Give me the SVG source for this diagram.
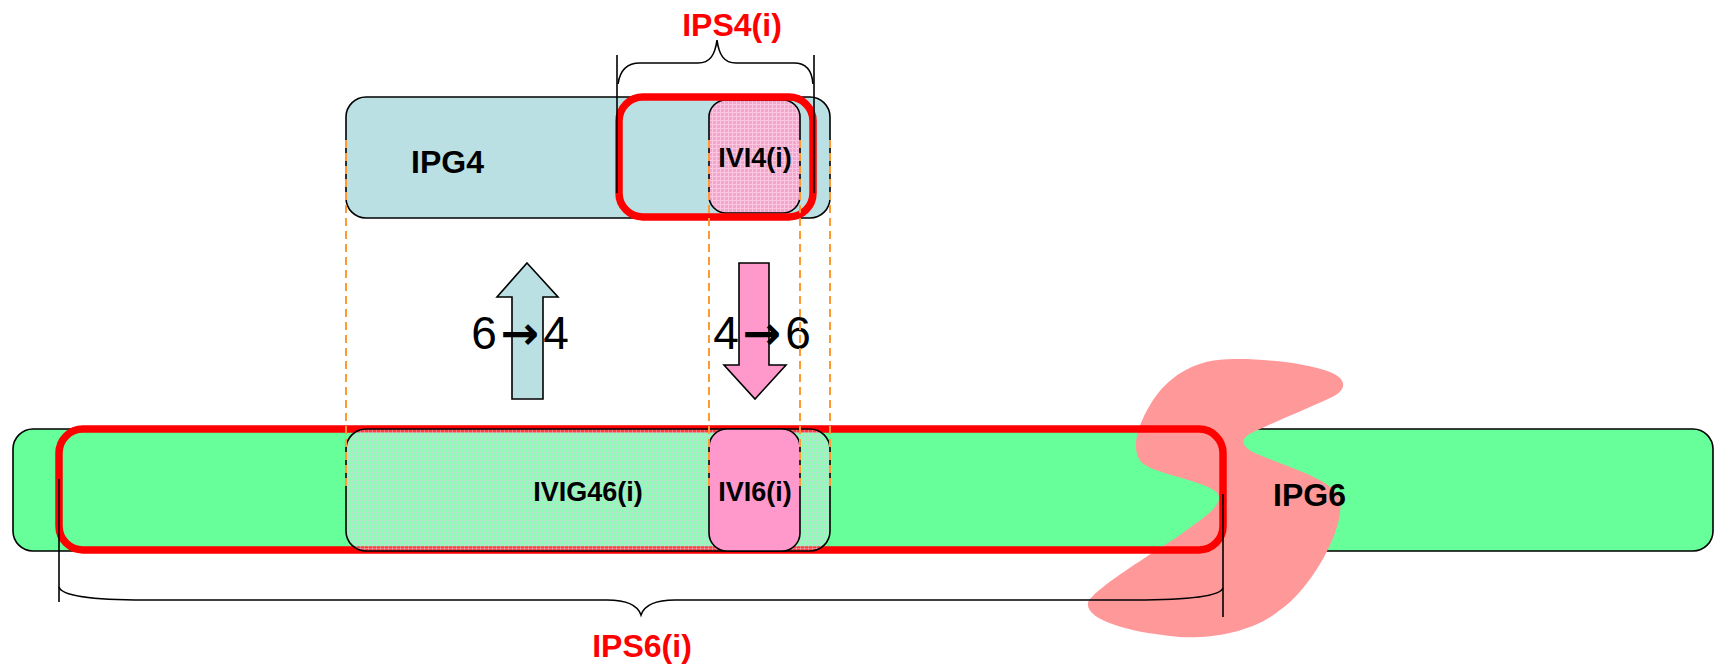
<svg xmlns="http://www.w3.org/2000/svg" width="1715" height="666" viewBox="0 0 1715 666">
  <defs>
    <!-- fine grid fills for the hatched blocks -->
    <pattern id="gridPink" width="4" height="4" patternUnits="userSpaceOnUse">
      <rect width="4" height="4" fill="#F2A6CE"/>
      <path d="M0 0.5H4M0.5 0V4" stroke="#FBC6DF" stroke-width="1"/>
    </pattern>
    <pattern id="gridMint" width="4" height="4" patternUnits="userSpaceOnUse">
      <rect width="4" height="4" fill="#FFFFFF" fill-opacity="0.23"/>
      <path d="M0 0.5H4M0.5 0V4" stroke="#D8D0E6" stroke-opacity="0.4" stroke-width="1"/>
    </pattern>
  </defs>
  <style>
    .box { stroke: #000; stroke-width: 1.6; }
    .ipg4 { fill: #BBE0E3; }
    .ipg6 { fill: #66FF99; }
    .pink { fill: #FF99CC; }
    .sel { fill: none; stroke: #FF0000; stroke-width: 7.5; }
    .guide { fill: none; stroke: #FF9933; stroke-width: 2; stroke-dasharray: 8 5; }
    .brace { fill: none; stroke: #000; stroke-width: 1.6; }
    .lbl { font-family: 'Liberation Sans', Arial, sans-serif; font-weight: bold; font-size: 32px; fill: #000; }
    .lbl-in { font-family: 'Liberation Sans', Arial, sans-serif; font-weight: bold; font-size: 27px; fill: #000; text-anchor: middle; }
    .lbl-red { font-family: 'Liberation Sans', Arial, sans-serif; font-weight: bold; font-size: 32px; fill: #FF0000; text-anchor: middle; }
    .dir { font-family: 'Liberation Sans', 'DejaVu Sans', Arial, sans-serif; font-size: 46px; fill: #000; text-anchor: middle; }
    .dir .arr { font-family: 'DejaVu Sans', sans-serif; font-weight: bold; }
  </style>

  <!-- IPv4 pool -->
  <g id="IPG4">
    <rect class="box ipg4" x="346" y="97" width="484" height="121" rx="20"/>
    <text class="lbl" x="411" y="173">IPG4</text>
  </g>
  <g id="IVI4">
    <rect class="box" x="709" y="100" width="91" height="113" rx="17" fill="url(#gridPink)"/>
    <text class="lbl-in" x="755" y="167">IVI4(i)</text>
  </g>
  <g id="IPS4">
    <rect class="sel" x="619" y="97" width="194" height="120" rx="24"/>
  </g>

  <!-- IPv6 pool -->
  <g id="IPG6">
    <rect class="box ipg6" x="13" y="429" width="1700" height="122" rx="20"/>
  </g>
  <g id="split">
    <path fill="#FF9999" d="M1203,363 C1225,355 1300,360 1330,372 C1350,380 1345,392 1330,398 C1300,412 1260,428 1248,435 C1238,442 1245,450 1262,456 C1290,468 1335,480 1340,500 C1345,530 1310,590 1280,610 C1250,635 1200,640 1170,636 C1130,632 1085,620 1088,603 C1092,590 1150,555 1180,535 C1200,520 1225,505 1218,494 C1210,482 1160,475 1145,465 C1130,455 1135,430 1150,405 C1165,380 1185,368 1203,363 Z"/>
  </g>
  <g id="IPS6">
    <rect class="sel" x="59" y="429" width="1164" height="121" rx="24"/>
  </g>
  <g id="IVIG46">
    <rect class="box" x="346" y="429" width="484" height="122" rx="20" fill="url(#gridMint)"/>
    <text class="lbl-in" x="588" y="501">IVIG46(i)</text>
  </g>
  <g id="IVI6">
    <rect class="box pink" x="709" y="429" width="91" height="122" rx="18"/>
    <text class="lbl-in" x="755" y="501">IVI6(i)</text>
  </g>
  <g id="IPG6-label">
    <text class="lbl" x="1273" y="506">IPG6</text>
  </g>

  <!-- translation arrows -->
  <g id="up64">
    <polygon class="box ipg4" points="527,263 558,297 543,297 543,399 512,399 512,297 497,297"/>
    <text class="dir" x="520" y="349">6<tspan class="arr" dx="4">→</tspan><tspan dx="4">4</tspan></text>
  </g>
  <g id="down46">
    <polygon class="box pink" points="739,263 769,263 769,365 786,365 755,399 724,365 739,365"/>
    <text class="dir" x="762" y="349">4<tspan class="arr" dx="4">→</tspan><tspan dx="4">6</tspan></text>
  </g>

  <!-- connectors: alignment guides and span braces -->
  <g id="connectors">
    <line class="guide" x1="346" y1="140" x2="346" y2="486"/>
    <line class="guide" x1="709" y1="140" x2="709" y2="486"/>
    <line class="guide" x1="800" y1="140" x2="800" y2="486"/>
    <line class="guide" x1="830" y1="140" x2="830" y2="486"/>

    <line class="brace" x1="617" y1="55" x2="617" y2="193"/>
    <line class="brace" x1="814" y1="55" x2="814" y2="193"/>
    <path class="brace" d="M618,84 C620,70 628,63 640,63 L698,63 C710,63 715,55 717,40 C719,55 724,63 736,63 L794,63 C806,63 812,70 813,84"/>

    <line class="brace" x1="59" y1="479" x2="59" y2="602"/>
    <line class="brace" x1="1223" y1="494" x2="1223" y2="617"/>
    <path class="brace" d="M59,587 C62,597 100,600 145,600 L607,600 C628,600 638,606 641,615 C644,606 654,600 675,600 L1135,600 C1190,600 1220,596 1223,588"/>
  </g>

  <g id="span-labels">
    <text class="lbl-red" x="732" y="36">IPS4(i)</text>
    <text class="lbl-red" x="642" y="657">IPS6(i)</text>
  </g>
</svg>
